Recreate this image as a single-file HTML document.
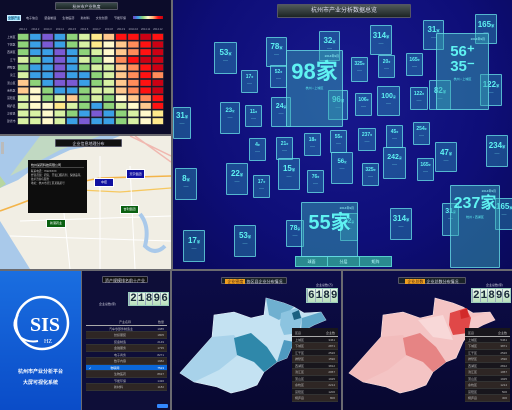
<!DOCTYPE html>
<html><head><meta charset="utf-8">
<style>
*{margin:0;padding:0;box-sizing:border-box}
body{width:512px;height:410px;overflow:hidden;background:#6a6a70;font-family:"Liberation Sans","Noto Sans CJK SC",sans-serif;position:relative}
.abs{position:absolute}
.panel{position:absolute;overflow:hidden}
.tbar{position:absolute;background:linear-gradient(#3a4a4a,#1a2424);border:1px solid #556;color:#dde;font-size:4px;text-align:center;line-height:7px;border-radius:1px;white-space:nowrap}
.card{position:absolute;border:1px solid rgba(110,230,235,.7);background:rgba(50,170,190,.38);color:#5ff2f2;text-align:center;font-weight:bold;border-radius:1px;white-space:nowrap;overflow:hidden}
.card .n{display:block;margin-top:28%;line-height:1}
.card .s{display:block;font-size:2.5px;color:#8ff;margin-top:2px;font-weight:normal}
.counter{position:absolute;background:#cfe9cf;border:1px solid #9cb;color:#1a2a3a;font-family:"Liberation Mono",monospace;font-weight:bold;display:flex}
.counter span{flex:1;text-align:center;border-left:1px solid #9ab;background:linear-gradient(#eaf8ea,#b9e0bc)}
.tbl{position:absolute;background:#18161c}
.tbl div{height:6.5px;border-bottom:1px solid #333;font-size:3px;color:#bbb;line-height:6px;display:flex;justify-content:space-between;padding:0 3px;white-space:nowrap}
.tbl div.alt{background:#2e2624}
</style></head><body>

<!-- Heatmap panel -->
<div class="panel" style="left:0;top:0;width:171px;height:134px;background:#0c0c2a">
  <div class="tbar" style="left:55px;top:2px;width:63px;height:8px">杭州市产业热度</div>
  <div class="abs" style="left:7px;top:15px;width:14px;height:6px;background:#7ad0f0;border:1px solid #cef;font-size:3px;color:#024;text-align:center;line-height:5px">全部产业</div>
  <div class="abs" style="left:26px;top:15px;width:100px;height:6px;font-size:3px;color:#ccd;display:flex;justify-content:space-between;line-height:6px"><span>电子信息</span><span>装备制造</span><span>生物医药</span><span>新材料</span><span>文化创意</span><span>节能环保</span></div>
  <div class="abs" style="left:133px;top:16px;width:30px;height:3px;background:linear-gradient(90deg,#7040c0,#3aa0e8,#8fd47a,#fff8c8,#ffb070,#ff1010,#c00010)"></div>
  <svg class="abs" style="left:0;top:0" width="171" height="134" id="hm"></svg>
</div>

<!-- Map panel -->
<div class="panel" style="left:0;top:136px;width:171px;height:133px;background:#f1eee4">
  <svg class="abs" style="left:0;top:0" width="171" height="133">
    <path d="M0,0 L120,0 L100,8 L70,14 L40,28 L18,44 L0,52 Z" fill="#a9c9ea"/>
    <path d="M0,0 L0,52 L6,48 L0,40Z" fill="#b7d6a0"/>
    <path d="M40,0 L100,0 L60,14 L30,30 L10,40 Z" fill="#cce0b0" opacity=".7"/>
    <path d="M130,0 L171,20 M135,0 L171,26" stroke="#f0b8b0" stroke-width="1.5" fill="none"/>
    <path d="M0,75 Q20,68 40,60 L60,50 L100,42 L171,40" stroke="#f3b44a" stroke-width="1.6" fill="none"/>
    <path d="M40,60 L80,54 L120,56 L171,52" stroke="#f6c860" stroke-width="1.3" fill="none"/>
    <path d="M100,20 L100,133 M60,40 L70,133 M130,30 L135,133" stroke="#fff" stroke-width="1" fill="none"/>
    <path d="M20,85 L171,80 M10,100 L171,105" stroke="#fff" stroke-width="1" fill="none"/>
    <path d="M140,78 Q150,90 145,110 Q155,120 165,110" stroke="#a9c9ea" stroke-width="4" fill="none"/>
    <path d="M0,85 L30,133 L0,133Z" fill="#a9c9ea"/>
    <rect x="1" y="6" width="3" height="12" fill="#bbb"/>
  </svg>
  <div class="tbar" style="left:55px;top:3px;width:67px;height:8px;background:#111">企业信息地理分布</div>
  <div class="abs" style="left:28px;top:24px;width:59px;height:53px;background:#0d0d0d;color:#ccc;font-size:2.6px;padding:3px;line-height:4px">
    <div style="color:#fff;font-size:3px;border-bottom:1px solid #444;margin-bottom:2px">杭州某药科技有限公司</div>
    <div>联系电话：7022XXXX</div><div>经营范围：研究、开发口服药剂、保健品等，技术咨询与服务</div><div>地址：杭州市滨江区某路某号</div>
  </div>
  <div class="abs" style="left:94px;top:42px;width:20px;height:9px;background:#1010a0;border:1px solid #fff;color:#fff;font-size:3px;text-align:center;line-height:7px">中控</div>
  <div class="abs" style="left:126px;top:33px;width:19px;height:10px;background:#1010a0;border:1px solid #fff;color:#fff;font-size:3px;text-align:center;line-height:8px">天宇集团</div>
  <div class="abs" style="left:120px;top:69px;width:19px;height:9px;background:#0a6010;border:1px solid #fff;color:#fff;font-size:3px;text-align:center;line-height:7px">吉利集团</div>
  <div class="abs" style="left:46px;top:83px;width:20px;height:9px;background:#0a6010;border:1px solid #fff;color:#fff;font-size:3px;text-align:center;line-height:7px">新港药业</div>
</div>

<!-- Big overview panel -->
<div class="panel" style="left:173px;top:0;width:339px;height:269px;background:radial-gradient(ellipse at 50% 35%,#18188e,#0e0e78 60%,#09095a)">
  <div id="cards"></div>
  <div class="tbar" style="left:104px;top:4px;width:134px;height:14px;line-height:12px;font-size:6px;background:linear-gradient(#505a5a,#1c2424)">杭州市产业分析数据总览</div>
  <div class="abs" style="left:122px;top:256px;width:97px;height:11px;display:flex;background:#2a8a90;border:1px solid #5cc">
    <span style="flex:1;color:#bff;font-size:4px;text-align:center;line-height:10px;border-right:1px solid #5cc">球面</span>
    <span style="flex:1;color:#bff;font-size:4px;text-align:center;line-height:10px;border-right:1px solid #5cc">分层</span>
    <span style="flex:1;color:#bff;font-size:4px;text-align:center;line-height:10px">矩阵</span>
  </div>
</div>

<!-- Logo panel -->
<div class="panel" style="left:0;top:271px;width:81px;height:139px;background:linear-gradient(#1a6ee0,#0a4cc8)">
  <svg class="abs" style="left:8px;top:22px" width="66" height="62">
    <circle cx="34" cy="30" r="26" fill="none" stroke="#fff" stroke-width="2.5"/>
    <text x="37" y="38" font-family="Liberation Serif,serif" font-weight="bold" font-size="20" fill="#fff" text-anchor="middle">SIS</text>
    <text x="40" y="50" font-family="Liberation Serif,serif" font-size="6" fill="#fff" text-anchor="middle">HZ</text>
    <path d="M10,22 Q2,32 12,44 Q20,50 30,48" stroke="#fff" stroke-width="2" fill="none"/>
  </svg>
  <div class="abs" style="left:0;top:96px;width:81px;color:#fff;font-size:5px;text-align:center;font-weight:bold;line-height:11px">杭州市产业分析平台<br>大屏可视化系统</div>
</div>

<!-- Table panel -->
<div class="panel" style="left:82px;top:271px;width:88px;height:139px;background:#0e0e38">
  <div class="tbar" style="left:20px;top:5px;width:46px;height:7px;background:#111">资产规模排名前十产业</div>
  <div class="abs" style="left:17px;top:31px;font-size:3px;color:#ccd">企业总数(家)</div>
  <div class="counter" style="left:46px;top:21px;width:41px;height:14px;font-size:11px;line-height:13px"><span>2</span><span>1</span><span>8</span><span>9</span><span>6</span></div>
  <div class="tbl" style="left:4px;top:48px;width:81px;background:transparent">
    <div style="border-bottom:1px solid #aaa"><span style="margin-left:30px">产业名称</span><span>数量</span></div>
    <div><span style="margin-left:20px">汽车零部件制造业</span><span>1985</span></div>
    <div class="alt"><span style="margin-left:25px">纺织服装</span><span>1805</span></div>
    <div><span style="margin-left:25px">装备制造</span><span>2149</span></div>
    <div class="alt"><span style="margin-left:25px">金融服务</span><span>1735</span></div>
    <div><span style="margin-left:25px">电子商务</span><span>8271</span></div>
    <div class="alt"><span style="margin-left:25px">数字内容</span><span>1982</span></div>
    <div style="background:#0a66d8;color:#fff"><span>➹ <span style="margin-left:18px">物联网</span></span><span>7523</span></div>
    <div class="alt"><span style="margin-left:25px">生物医药</span><span>8637</span></div>
    <div><span style="margin-left:25px">节能环保</span><span>1436</span></div>
    <div class="alt"><span style="margin-left:25px">新材料</span><span>1182</span></div>
  </div>
  <div class="abs" style="left:75px;top:133px;width:11px;height:4px;background:#38f;border-radius:1px"></div>
</div>

<!-- Blue map panel -->
<div class="panel" style="left:172px;top:271px;width:169px;height:139px;background:linear-gradient(#0c0c48,#080830)">
  <svg class="abs" style="left:2px;top:4px" width="169" height="135">
    <path d="M6,98 L38,62 L40,40 L60,37 L77,43 L90,40 L92,23 L110,28 L120,32 L130,38 L147,37 L152,45 L140,50 L127,57 L120,67 L113,83 L103,87 L90,97 L83,110 L70,115 L57,118 L43,112 L20,107Z" fill="#c4e2f2" stroke="#e8f4fb" stroke-width=".6"/>
    <path d="M38,62 L60,60 L70,75 L45,95 L20,107 L6,98Z" fill="#a8d2ea"/>
    <path d="M60,63 L77,58 L93,72 L103,87 L90,97 L80,87 L63,80Z" fill="#2f88aa"/>
    <path d="M92,23 L110,28 L120,32 L105,45 L95,40Z" fill="#6fb0d0"/>
    <path d="M107,38 L123,33 L128,43 L125,58 L110,60 L106,50Z" fill="#8cc4e0"/>
    <path d="M118,38 L125,35 L127,43 L120,45Z" fill="#1a6080"/>
    <path d="M128,43 L147,37 L152,45 L140,50 L127,57Z" fill="#5fa6c8"/>
    <path d="M120,67 L113,83 L103,87 L110,65Z" fill="#4f9ac0"/>
  </svg>
  <div class="tbar" style="left:49px;top:6px;width:66px;height:7px;background:#1a2228"><span style="background:#f0a020;color:#421;padding:0 2px">企业密度</span> 各区县企业分布情况</div>
  <div class="abs" style="left:144px;top:12px;font-size:3px;color:#ccd">企业总数(万)</div>
  <div class="counter" style="left:134px;top:17px;width:32px;height:15px;font-size:11px;line-height:14px"><span>6</span><span>1</span><span>8</span><span>9</span></div>
  <div class="tbl" style="left:120px;top:57px;width:46px;height:69px;padding-top:2px">
    <div style="border-bottom:1px solid #aaa"><span>区县</span><span>企业数</span></div>
    <div><span>上城区</span><span>3461</span></div><div class="alt"><span>下城区</span><span>2871</span></div><div><span>江干区</span><span>2526</span></div><div class="alt"><span>拱墅区</span><span>1590</span></div><div><span>西湖区</span><span>3812</span></div><div class="alt"><span>滨江区</span><span>2957</span></div><div><span>萧山区</span><span>1925</span></div><div class="alt"><span>余杭区</span><span>2214</span></div><div><span>富阳区</span><span>1206</span></div><div class="alt"><span>桐庐县</span><span>806</span></div>
  </div>
</div>

<!-- Red map panel -->
<div class="panel" style="left:343px;top:271px;width:169px;height:139px;background:linear-gradient(#0c0c48,#080830)">
  <svg class="abs" style="left:0;top:4px" width="169" height="135">
    <path d="M6,98 L38,62 L40,40 L60,37 L77,43 L90,40 L92,23 L110,28 L120,32 L130,38 L147,37 L152,45 L140,50 L127,57 L120,67 L113,83 L103,87 L90,97 L83,110 L70,115 L57,118 L43,112 L20,107Z" fill="#f4c4c4" stroke="#fbe4e4" stroke-width=".6"/>
    <path d="M38,62 L60,60 L70,75 L45,95 L20,107 L6,98Z" fill="#f2bcbc"/>
    <path d="M75,45 L100,40 L110,65 L90,62Z" fill="#f8d8d8"/>
    <path d="M60,63 L77,58 L93,72 L103,87 L90,97 L80,87 L63,80Z" fill="#e68484"/>
    <path d="M107,38 L123,33 L128,43 L125,58 L110,60 L106,50Z" fill="#e04848"/>
    <path d="M117,36 L124,33 L126,42 L118,44Z" fill="#d22a2a"/>
    <path d="M128,43 L147,37 L152,45 L140,50 L127,57Z" fill="#f4caca"/>
  </svg>
  <div class="tbar" style="left:55px;top:6px;width:68px;height:7px;background:#1a2228"><span style="background:#f0a020;color:#421;padding:0 2px">企业总数</span> 企业总数分布情况</div>
  <div class="abs" style="left:143px;top:12px;font-size:3px;color:#ccd">企业总数(家)</div>
  <div class="counter" style="left:128px;top:17px;width:40px;height:15px;font-size:11px;line-height:14px"><span>2</span><span>1</span><span>8</span><span>9</span><span>6</span></div>
  <div class="tbl" style="left:122px;top:57px;width:45px;height:69px;padding-top:2px">
    <div style="border-bottom:1px solid #aaa"><span>区县</span><span>企业数</span></div>
    <div><span>上城区</span><span>5461</span></div><div class="alt"><span>下城区</span><span>3871</span></div><div><span>江干区</span><span>2526</span></div><div class="alt"><span>拱墅区</span><span>1590</span></div><div><span>西湖区</span><span>2812</span></div><div class="alt"><span>滨江区</span><span>1957</span></div><div><span>萧山区</span><span>1925</span></div><div class="alt"><span>余杭区</span><span>1214</span></div><div><span>富阳区</span><span>506</span></div><div class="alt"><span>桐庐县</span><span>306</span></div>
  </div>
</div>

<script>
// Heatmap data
const hmCols = ['2014.1','2014.2','2014.3','2014.4','2014.5','2014.6','2014.7','2014.8','2014.9','2014.10','2014.11','2014.12'];
const hmRows = ['上城区','下城区','西湖区','江干','拱墅区','滨江','萧山区','余杭区','富阳区','桐庐县','淳安县','建德市'];
const hmLevels = [
 [2,1,0,1,2,3,5,6,8,8,9,8],
 [2,1,0,1,2,3,5,4,6,7,8,9],
 [2,1,1,0,1,2,3,4,6,7,8,9],
 [3,2,1,0,1,3,2,4,7,8,9,9],
 [2,1,1,0,1,2,3,3,6,7,8,9],
 [3,1,1,0,1,1,2,3,6,7,8,7],
 [6,2,1,0,0,1,2,3,6,7,8,9],
 [6,4,2,1,1,2,3,3,6,7,8,9],
 [3,4,2,3,6,2,3,2,4,6,7,8],
 [3,4,4,5,3,2,1,2,3,4,6,8],
 [3,3,4,3,2,1,0,1,2,3,4,5],
 [3,3,4,3,1,0,1,1,2,3,4,5]
];
const hmPalette = ['#7a5ad4','#3a9fe6','#8ed37a','#d8f1a4','#fff9cc','#ffe98c','#ffc88e','#ff8c5a','#ff1212','#cc0014'];
(function(){
  const svg=document.getElementById('hm'), NS='http://www.w3.org/2000/svg';
  const x0=17,x1=164,y0=33,y1=125;
  const cw=(x1-x0)/hmCols.length, ch=(y1-y0)/hmRows.length;
  const xs=i=>x0+i*cw, ys=j=>y0+j*ch;
  hmCols.forEach((c,i)=>{const t=document.createElementNS(NS,'text');t.setAttribute('x',xs(i)+cw/2);t.setAttribute('y',y0-3);t.setAttribute('font-size','2.6');t.setAttribute('fill','#aab');t.setAttribute('text-anchor','middle');t.textContent=c;
    
    
    svg.appendChild(t);});
  hmRows.forEach((r,j)=>{const t=document.createElementNS(NS,'text');t.setAttribute('x',x0-1.5);t.setAttribute('y',ys(j)+ch/2+1);t.setAttribute('font-size','2.8');t.setAttribute('fill','#ccd');t.setAttribute('text-anchor','end');t.textContent=r;
    
    
    svg.appendChild(t);
    hmLevels[j].forEach((v,i)=>{const rc=document.createElementNS(NS,'rect');rc.setAttribute('x',xs(i)+0.6);rc.setAttribute('y',ys(j)+0.6);rc.setAttribute('width',cw-1.2);rc.setAttribute('height',ch-1.2);rc.setAttribute('fill',hmPalette[v]);rc.setAttribute('stroke','#333');rc.setAttribute('stroke-width','0.5');
      
      
      svg.appendChild(rc);});
  });
})();
// Overview cards: [label, x, y, w, h, fontSize]
const cards=[
 ['53',41,42,23,32,8],['78',93,37,21,30,8],['32',146,31,21,30,8],['314',197,25,22,30,8],['31',250,20,21,30,8],['165',302,14,22,30,8],
 ['17',68,70,17,23,5],['52',97,65,17,23,5],['325',178,57,17,25,5],['20',205,55,17,23,5],['165',233,53,17,23,5],
 ['31',0,107,18,32,8],['23',47,102,20,32,6],['11',72,105,17,22,5],['24',98,97,20,30,7],['96',155,90,20,30,8],['106',182,93,17,23,5],['100',204,86,23,30,7],['122',237,87,18,23,5],['82',256,80,22,30,8],['122',307,74,22,32,8],
 ['4',76,138,17,23,5],['21',103,137,17,23,5],['18',131,133,17,23,5],['55',157,130,17,23,5],['237',185,128,18,23,5],['45',213,125,17,23,5],['254',240,122,17,23,5],['47',262,142,22,30,8],['234',313,135,22,32,8],
 ['8',2,168,22,32,8],['22',53,163,22,32,8],['17',80,175,17,23,5],['15',105,158,22,32,8],['76',134,170,17,23,5],['56',158,152,22,32,6],['325',189,163,17,23,5],['242',210,147,23,32,7],['165',244,158,17,23,5],
 ['78',113,220,18,27,7],['32',167,213,18,28,7],['314',217,208,22,32,8],['53',61,225,22,32,8],['17',10,230,22,32,8],['31',269,203,17,33,7],['165',322,198,18,32,8]
];
const bigCards=[['98家',113,50,57,77,22,'2014年9月','杭州 • 上城区'],['56⁺<br>35⁻',263,33,53,77,15,'2014年9月','杭州 • 上城区'],['55家',128,202,57,55,20,'2014年9月',''],['237家',277,185,50,83,16,'2014年9月','杭州 • 西湖区']];
(function(){
  const box=document.getElementById('cards');
  cards.forEach(c=>{const d=document.createElement('div');d.className='card';
    
    
    d.style.cssText=`left:${c[1]}px;top:${c[2]}px;width:${c[3]}px;height:${c[4]}px;font-size:${c[5]}px`;
    d.innerHTML=`<span class="n">${c[0]}<small style="font-size:40%">家</small></span><span class="s">——</span>`;box.appendChild(d);});
  bigCards.forEach(c=>{const d=document.createElement('div');d.className='card';
    
    
    d.style.cssText=`left:${c[1]}px;top:${c[2]}px;width:${c[3]}px;height:${c[4]}px;background:rgba(55,165,180,.5);z-index:2`;
    d.innerHTML=`<div style="font-size:3px;text-align:right;padding:3px;color:#9ff;font-weight:normal">${c[6]}</div><div style="font-size:${c[5]}px;line-height:1">${c[0]}</div><div style="font-size:3px;margin-top:3px;font-weight:normal">${c[7]}</div>`;box.appendChild(d);});
})();
</script>
</body></html>
